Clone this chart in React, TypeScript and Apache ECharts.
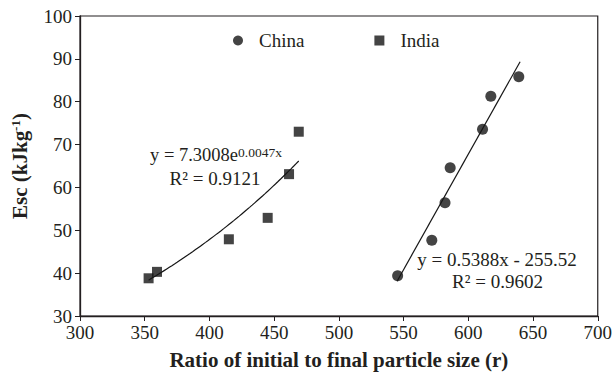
import React, { useEffect, useRef } from "react";
import * as echarts from "echarts";

const chinaX = [545.4, 571.8, 582, 586, 611, 617.4, 639];
const chinaY = [39.4, 47.7, 56.4, 64.6, 73.6, 81.3, 85.8];
const indiaX = [353, 359.5, 415, 445, 461.5, 469];
const indiaY = [38.8, 40.3, 47.9, 52.9, 63.1, 73];

// Trendline coefficients shown in the chart
const linSlope = 0.5388;
const linIntercept = -255.52;
const linRange = [545, 640];
const expA = 7.3008;
const expB = 0.0047;
const expRange = [353, 469];

const xTicks = [300, 350, 400, 450, 500, 550, 600, 650, 700];
const yTicks = [30, 40, 50, 60, 70, 80, 90, 100];

const FONT = "'Liberation Serif', 'Times New Roman', serif";
const INK = "#231f20";

export default function App() {
  const ref = useRef<HTMLDivElement>(null);
  useEffect(() => {
    if (!ref.current) return;
    const chart = echarts.init(ref.current, null, { renderer: "svg" });
    const china = chinaX.map((x, i) => [x, chinaY[i]]);
    const india = indiaX.map((x, i) => [x, indiaY[i]]);
    const linLine = linRange.map((x) => [x, linSlope * x + linIntercept]);
    const expLine: number[][] = [];
    for (let x = expRange[0]; x <= expRange[1]; x += 2) {
      expLine.push([x, expA * Math.exp(expB * x)]);
    }
    chart.setOption({
      animation: false,
      backgroundColor: "#fff",
      textStyle: { fontFamily: FONT, color: INK },
      grid: {
        left: 80,
        top: 16,
        right: 15,
        bottom: 59,
        show: true,
        borderColor: INK,
        borderWidth: 1.2,
      },
      legend: {
        data: [
          { name: "China", icon: "circle" },
          { name: "India", icon: "rect" },
        ],
        left: 228,
        top: 26,
        itemWidth: 10,
        itemHeight: 10,
        itemGap: 70,
        textStyle: { fontFamily: FONT, fontSize: 19, color: INK, padding: [0, 0, 0, 11] },
      },
      xAxis: {
        type: "value",
        min: xTicks[0],
        max: xTicks[xTicks.length - 1],
        interval: 50,
        name: "Ratio of initial to final particle size (r)",
        nameLocation: "middle",
        nameGap: 33,
        nameTextStyle: { fontFamily: FONT, fontSize: 21, fontWeight: "bold", color: INK },
        axisLine: { lineStyle: { color: INK, width: 1.3 } },
        axisTick: { show: true, inside: false, length: 5, lineStyle: { color: INK } },
        axisLabel: { fontFamily: FONT, fontSize: 19, color: INK, margin: 7 },
        splitLine: { show: false },
      },
      yAxis: {
        type: "value",
        min: yTicks[0],
        max: yTicks[yTicks.length - 1],
        interval: 10,
        name: "{b|Esc (kJkg}{s|-1}{b|)}",
        nameLocation: "middle",
        nameGap: 50,
        nameRotate: 90,
        nameTextStyle: {
          rich: {
            b: { fontFamily: FONT, fontSize: 21, fontWeight: "bold", color: INK },
            s: { fontFamily: FONT, fontSize: 13, fontWeight: "bold", color: INK, verticalAlign: "top" },
          },
        },
        axisLine: { show: true, lineStyle: { color: INK, width: 1.3 } },
        axisTick: { show: true, inside: false, length: 5, lineStyle: { color: INK } },
        axisLabel: { fontFamily: FONT, fontSize: 19, color: INK, margin: 8 },
        splitLine: { show: false },
      },
      series: [
        {
          name: "China",
          type: "scatter",
          data: china,
          symbol: "circle",
          symbolSize: 11,
          itemStyle: { color: "#151515" },
          z: 3,
        },
        {
          name: "India",
          type: "scatter",
          data: india,
          symbol: "rect",
          symbolSize: 10,
          itemStyle: { color: "#151515" },
          z: 3,
        },
        {
          name: "ChinaFit",
          type: "line",
          data: linLine,
          showSymbol: false,
          lineStyle: { color: "#151515", width: 1.2 },
          z: 1,
        },
        {
          name: "IndiaFit",
          type: "line",
          data: expLine,
          showSymbol: false,
          lineStyle: { color: "#151515", width: 1.2 },
          z: 1,
        },
      ],
      graphic: [
        {
          type: "text",
          x: 216,
          y: 155,
          style: {
            text: "{a|y = 7.3008e}{s|0.0047x}",
            align: "center",
            verticalAlign: "middle",
            rich: {
              a: { fontFamily: FONT, fontSize: 18.5, fill: INK },
              s: { fontFamily: FONT, fontSize: 13.5, fill: INK, verticalAlign: "top" },
            },
          },
        },
        {
          type: "text",
          x: 215,
          y: 178,
          style: {
            text: "R² = 0.9121",
            align: "center",
            verticalAlign: "middle",
            fontFamily: FONT,
            fontSize: 19,
            fill: INK,
          },
        },
        {
          type: "text",
          x: 497,
          y: 259,
          style: {
            text: "y = 0.5388x - 255.52",
            align: "center",
            verticalAlign: "middle",
            fontFamily: FONT,
            fontSize: 19,
            fill: INK,
          },
        },
        {
          type: "text",
          x: 497.5,
          y: 281,
          style: {
            text: "R² = 0.9602",
            align: "center",
            verticalAlign: "middle",
            fontFamily: FONT,
            fontSize: 19,
            fill: INK,
          },
        },
      ],
    });
    return () => chart.dispose();
  }, []);
  return (
    <div
      ref={ref}
      style={{ position: "fixed", left: 0, top: 0, width: 615, height: 375 }}
    />
  );
}
